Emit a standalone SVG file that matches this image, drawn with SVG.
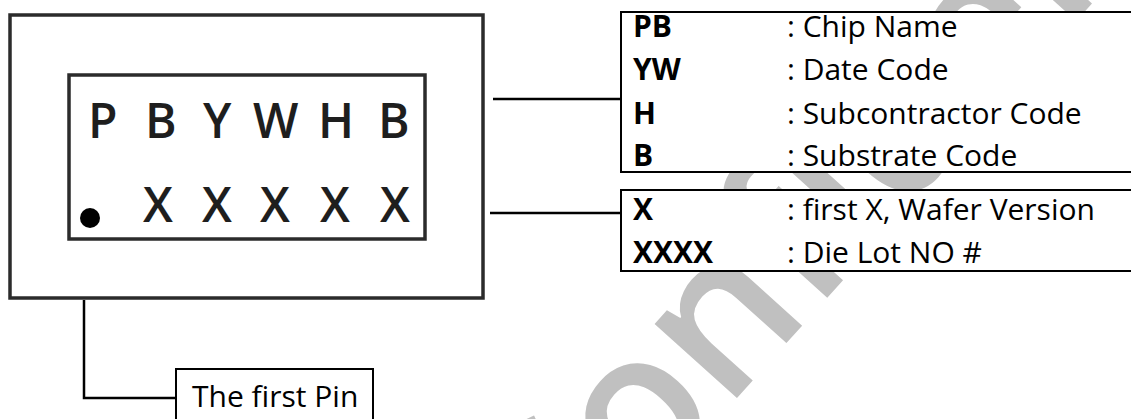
<svg xmlns="http://www.w3.org/2000/svg" width="1131" height="419" viewBox="0 0 1131 419">
  <style>
    .box { fill: #ffffff; stroke: #000000; stroke-width: 2; }
    .chip { fill: #ffffff; stroke: #2b2b2b; stroke-width: 3.5; }
    .conn { fill: none; stroke: #000000; stroke-width: 2.5; }
    .lbl { font-family: "Open Sans", "Liberation Sans", sans-serif; font-size: 30px; fill: #000000; }
    .key { font-weight: bold; }
    .mark { font-family: "Open Sans", "Liberation Sans", sans-serif; font-size: 48px; font-weight: 600; fill: #1e1e1e; }
    .wm { font-family: "Open Sans", "Liberation Sans", sans-serif; font-size: 205px; font-weight: 600; fill: #c0c0c0; }
  </style>
  <rect width="1131" height="419" fill="#ffffff"/>
  <g id="watermark">
    <text class="wm" transform="translate(555,600) rotate(-48)">Confidential</text>
  </g>
  <g id="chip">
    <rect class="chip" x="10" y="15" width="473" height="283"/>
    <rect class="chip" x="69" y="75" width="356" height="164"/>
    <text class="mark"><tspan x="88" y="138">P</tspan> <tspan x="145" y="138">B</tspan> <tspan x="203" y="138">Y</tspan> <tspan x="253" y="138">W</tspan> <tspan x="318" y="138">H</tspan> <tspan x="378" y="138">B</tspan></text>
    <circle cx="90" cy="218" r="10" fill="#000000"/>
    <text class="mark"><tspan x="143" y="222">X</tspan> <tspan x="202" y="222">X</tspan> <tspan x="260" y="222">X</tspan> <tspan x="320" y="222">X</tspan> <tspan x="380" y="222">X</tspan></text>
  </g>
  <g id="connectors">
    <line class="conn" x1="493" y1="99" x2="621" y2="99"/>
    <line class="conn" x1="490" y1="213" x2="621" y2="213"/>
    <polyline class="conn" points="84,300 84,398 177,398"/>
  </g>
  <g id="table-top">
    <rect class="box" x="621" y="12" width="520" height="160"/>
    <text class="lbl key" x="633" y="37">PB</text>
    <text class="lbl" x="787" y="37">: Chip Name</text>
    <text class="lbl key" x="633" y="80">YW</text>
    <text class="lbl" x="787" y="80">: Date Code</text>
    <text class="lbl key" x="633" y="124">H</text>
    <text class="lbl" x="787" y="124">: Subcontractor Code</text>
    <text class="lbl key" x="633" y="166">B</text>
    <text class="lbl" x="787" y="166">: Substrate Code</text>
  </g>
  <g id="table-bottom">
    <rect class="box" x="621" y="190" width="520" height="81"/>
    <text class="lbl key" x="633" y="220">X</text>
    <text class="lbl" x="787" y="220">: first X, Wafer Version</text>
    <text class="lbl key" x="633" y="263">XXXX</text>
    <text class="lbl" x="787" y="263">: Die Lot NO #</text>
  </g>
  <g id="first-pin">
    <rect class="box" x="176" y="369" width="197" height="60"/>
    <text class="lbl" x="192" y="407">The first Pin</text>
  </g>
</svg>
